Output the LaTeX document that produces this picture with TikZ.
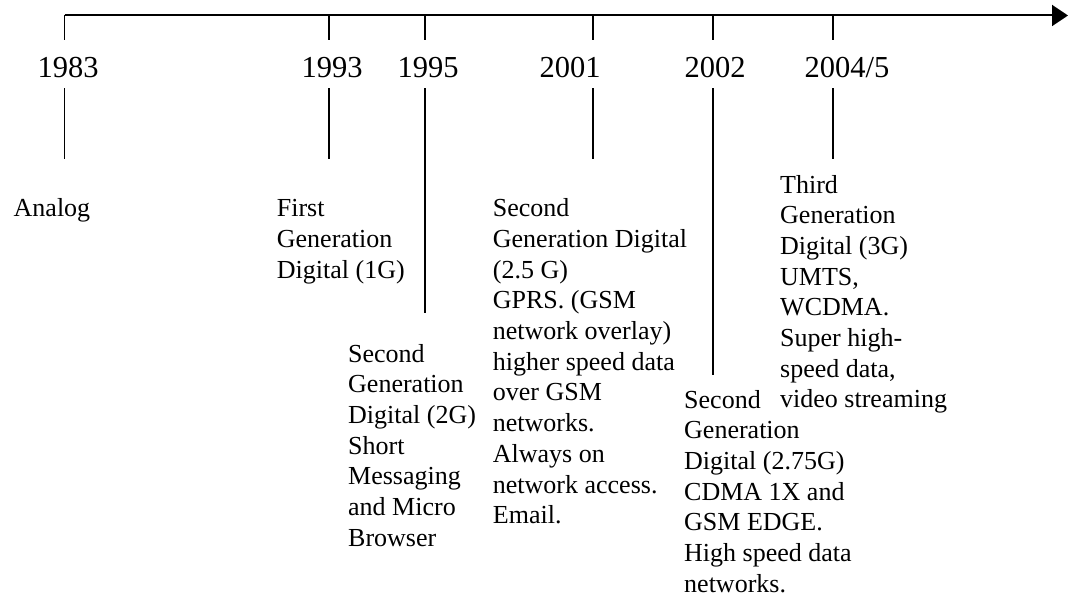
\documentclass[tikz,border=0pt]{standalone}
\usepackage{fontspec}
\setmainfont{Liberation Serif}
\usetikzlibrary{arrows.meta}

\newcommand{\yearfont}{\fontsize{30.5}{36}\selectfont}
\newcommand{\descfont}{\fontsize{26}{30.7}\selectfont}

\begin{document}
\begin{tikzpicture}[x=1pt, y=-1pt,
    year/.style={font=\yearfont, anchor=base, inner xsep=0pt, inner ysep=0pt,
                 text height=38pt, text depth=10pt},
    % multi-line text: base is the baseline of the last line
    desc/.style={font=\descfont, align=left, anchor=base west, inner sep=0pt},
    tick/.style={line width=1.6pt},
  ]
  \useasboundingbox (0,0) rectangle (1068,599);

  % time axis
  \coordinate (start) at (64.5,15.5);
  \coordinate (end) at (1068,15.5);
  \draw[line width=2pt, -{Triangle[length=16pt,width=21pt]}] (start) -- (end);

  % years
  \node[year] (y1983) at (68,78)  {1983};
  \node[year] (y1993) at (332,78) {1993};
  \node[year] (y1995) at (428,78) {1995};
  \node[year] (y2001) at (570,78) {2001};
  \node[year] (y2002) at (715,78) {2002};
  \node[year] (y2004) at (847,78) {2004/5};

  % ticks, broken by the year labels
  \foreach \yr/\x/\bot in {1983/64.5/159, 1993/329/159, 1995/425/313,
                           2001/593/159, 2002/713/375, 2004/833/159} {
    \coordinate (t\yr) at (\x,15.5);
    \coordinate (b\yr) at (\x,\bot);
    \draw[tick] (t\yr) -- (t\yr |- y\yr.north);
    \draw[tick] (t\yr |- y\yr.south) -- (b\yr);
  }

  % descriptions
  \node[desc] (analog) at (13.5,216.7) {Analog};
  \node[desc] (gen1) at (276.7,278.1) {First\\Generation\\Digital (1G)};
  \node[desc] (gen2) at (348,546.2) {Second\\Generation\\Digital (2G)\\Short\\Messaging\\and Micro\\Browser};
  \node[desc] (gen25) at (492.7,523.7) {Second\\Generation Digital\\(2.5 G)\\GPRS. (GSM\\network overlay)\\higher speed data\\over GSM\\networks.\\Always on\\network access.\\Email.};
  \node[desc] (gen275) at (684,592.2) {Second\\Generation\\Digital (2.75G)\\CDMA 1X and\\GSM EDGE.\\High speed data\\networks.};
  \node[desc] (gen3) at (780,407.9) {Third\\Generation\\Digital (3G)\\UMTS,\\WCDMA.\\Super high-\\speed data,\\video streaming};
\end{tikzpicture}
\end{document}
